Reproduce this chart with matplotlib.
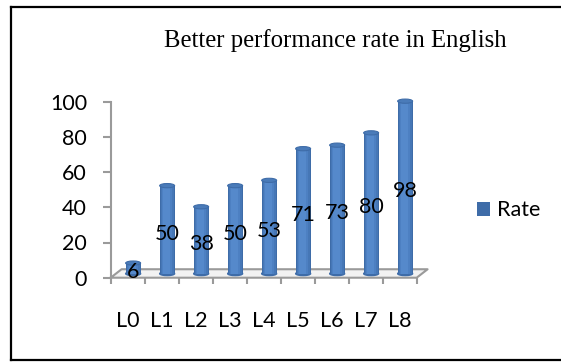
import matplotlib
matplotlib.use("Agg")
import matplotlib.pyplot as plt
from matplotlib.patches import Ellipse
from matplotlib.lines import Line2D

# data
levels = ["L0", "L1", "L2", "L3", "L4", "L5", "L6", "L7", "L8"]
rate = [6, 50, 38, 50, 53, 71, 73, 80, 98]
yticks = [0, 20, 40, 60, 80, 100]

W, H = 561, 363
fig = plt.figure(figsize=(W / 100, H / 100), dpi=100)

def px(x, y):
    # pixel (from top-left) -> figure fraction
    return x / W, (H - y) / H

ax_left, ax_bottom = px(110.7, 277.7)
ax = fig.add_axes([ax_left, ax_bottom, (430 - 110.7) / W, 176 / H])
ax.set_xlim(-0.5, -0.5 + (430 - 110.7) / 34)
ax.set_ylim(0, 100)

grey = "#9a9a9a"
depth_x, depth_y = 0.32, 4.8   # fake 3D floor depth
shift, base = 0.16, 2.3        # cylinders sit in the middle of the floor
bw = 0.44

n = len(levels)
xs = [i + shift for i in range(n)]

# floor
fx = [-0.5, -0.5 + depth_x, n - 0.5 + depth_x, n - 0.5, -0.5]
fy = [0, depth_y, depth_y, 0, 0]
ax.fill(fx, fy, color="#f2f2f2", zorder=1, clip_on=False)
ax.plot(fx, fy, color=grey, lw=1.5, zorder=1, clip_on=False)

# cylinders, shaded with nested bars
edge_c = "#3e6ca8"
bars = ax.bar(xs, rate, width=bw, bottom=base, color=edge_c, zorder=3,
              label="Rate", clip_on=False)
shades = [(0.38, 0.0, "#4677b6"), (0.30, -0.01, "#4d80c2"), (0.20, -0.02, "#5589cb")]
for w, off, c in shades:
    ax.bar([x + off for x in xs], rate, width=w, bottom=base, color=c,
           zorder=4, clip_on=False)
for x, v in zip(xs, rate):
    ax.add_patch(Ellipse((x, base), bw, 2.2, color=edge_c, zorder=2, clip_on=False))
    ax.add_patch(Ellipse((x, v + base), bw, 2.4, facecolor="#4a7bb9",
                         edgecolor=edge_c, lw=0.8, zorder=5, clip_on=False))
    ax.text(x, v / 2, str(v), ha="center", va="center", fontsize=15.5,
            family="Lato", color="black", zorder=6)

# axes styling
for s in ["top", "right", "bottom"]:
    ax.spines[s].set_visible(False)
ax.spines["left"].set_color(grey)
ax.spines["left"].set_linewidth(1.5)
ax.set_yticks(yticks)
ax.tick_params(axis="y", length=5.5, width=1.5, color=grey, pad=11.5,
               labelsize=15.5)
ax.set_xticks(range(n))
ax.set_xticklabels(levels)
ax.set_xticks([i - 0.5 for i in range(n + 1)], minor=True)
ax.tick_params(axis="x", which="major", length=0, pad=24, labelsize=15.5)
ax.tick_params(axis="x", which="minor", length=4.5, width=1.5, color=grey)
for lab in ax.get_xticklabels() + ax.get_yticklabels():
    lab.set_family("Lato")
ax.patch.set_alpha(0)

# title
tx, ty = px(335.5, 41)
fig.text(tx, ty, "Better performance rate in English", ha="center", va="center",
         fontsize=17.8, family="Liberation Serif")

# legend
lx, ly = px(466, 210.5)
ax.legend(handles=[bars], loc="center left", bbox_to_anchor=(lx, ly),
          bbox_transform=fig.transFigure, frameon=False, borderpad=0,
          handlelength=0.6, handleheight=0.6, handletextpad=0.35,
          prop={"family": "Lato", "size": 15.5})

# outer frame
for xa, ya in [((11, 11), (7, 360)), ((11, 561), (7, 7)), ((11, 561), (360, 360))]:
    p0 = px(xa[0], ya[0])
    p1 = px(xa[1], ya[1])
    fig.add_artist(Line2D([p0[0], p1[0]], [p0[1], p1[1]], color="black", lw=1.6,
                          transform=fig.transFigure))

fig.savefig("out.png", dpi=100)
